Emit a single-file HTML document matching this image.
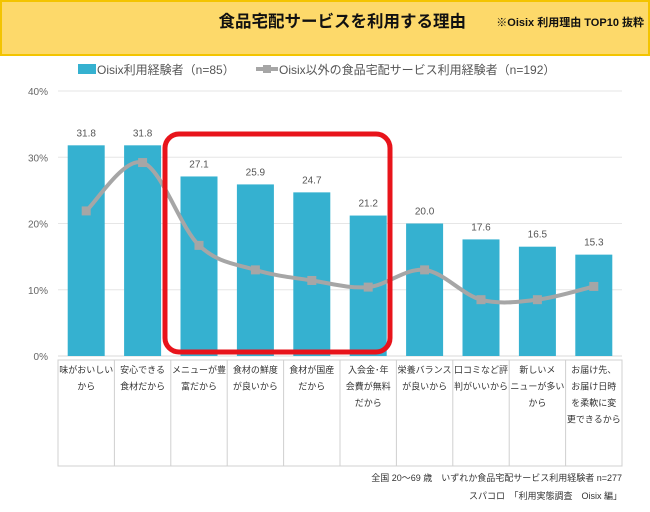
<!DOCTYPE html>
<html><head><meta charset="utf-8"><style>
body{margin:0;width:650px;height:507px;background:#fff;overflow:hidden;font-family:"Liberation Sans","Noto Sans CJK JP",sans-serif;}
</style></head><body>
<svg width="650" height="507" xmlns="http://www.w3.org/2000/svg" style="font-family:'Liberation Sans','Noto Sans CJK JP',sans-serif">
<rect x="1" y="1" width="648" height="54" fill="#fdd96a" stroke="#f3c400" stroke-width="2"/>
<text x="466" y="27" text-anchor="end" font-size="16.5" font-weight="bold" fill="#111">食品宅配サービスを利用する理由</text>
<text x="644" y="26" text-anchor="end" font-size="11" font-weight="bold" fill="#111">※Oisix 利用理由 TOP10 抜粋</text>
<g>
<rect x="78" y="64" width="18" height="10" fill="#35b1d0"/>
<text x="97" y="74" font-size="12" fill="#555">Oisix利用経験者（n=85）</text>
<line x1="256" y1="69" x2="278" y2="69" stroke="#a6a6a6" stroke-width="4"/>
<rect x="263" y="65" width="8" height="8" fill="#a6a6a6"/>
<text x="279" y="74" font-size="12" fill="#555">Oisix以外の食品宅配サービス利用経験者（n=192）</text>
</g>
<g id="grid"></g><g id="bars"></g><g id="line"></g><g id="table"></g>
<rect x="165" y="134" width="225" height="218" rx="14" fill="none" stroke="#e8141b" stroke-width="5"/>
<text x="622" y="481" text-anchor="end" font-size="9" fill="#333">全国 20〜69 歳　いずれか食品宅配サービス利用経験者 n=277</text>
<text x="622" y="499" text-anchor="end" font-size="9" fill="#333">スパコロ　「利用実態調査　Oisix 編」</text>
</svg>
<script>
const categories=[["味がおいしい","から"],["安心できる","食材だから"],["メニューが豊","富だから"],["食材の鮮度","が良いから"],["食材が国産","だから"],["入会金･年","会費が無料","だから"],["栄養バランス","が良いから"],["口コミなど評","判がいいから"],["新しいメ","ニューが多い","から"],["お届け先、","お届け日時","を柔軟に変","更できるから"]];
const oisixValues=[31.8,31.8,27.1,25.9,24.7,21.2,20.0,17.6,16.5,15.3];
const otherValues=[21.9,29.2,16.7,13.0,11.4,10.4,13.0,8.5,8.5,10.5];
const yTicks=[0,10,20,30,40];
const NS="http://www.w3.org/2000/svg";
const L=58,R=622,T=91,B=356,cw=(R-L)/categories.length;
const y=v=>B-(v/40)*(B-T);
const xc=i=>L+cw*(i+0.5);
function mk(tag,attrs,parent,txt){const e=document.createElementNS(NS,tag);for(const k in attrs)e.setAttribute(k,attrs[k]);if(txt!==undefined)e.textContent=txt;document.getElementById(parent).appendChild(e);return e;}
yTicks.forEach(t=>{
 const g=mk('line',{x1:L,x2:R,y1:y(t),y2:y(t),stroke:t===0?'#d9d9d9':'#e6e6e6','stroke-width':1},'grid');
 
 
 const l=mk('text',{x:L-10,y:y(t)+4,'text-anchor':'end','font-size':10,fill:'#666'},'grid',t+'%');
 
 
});
oisixValues.forEach((v,i)=>{
 const b=mk('rect',{x:xc(i)-18.5,y:y(v),width:37,height:B-y(v),fill:'#35b1d0'},'bars');
 
 
 const t=mk('text',{x:xc(i),y:y(v)-9,'text-anchor':'middle','font-size':10,fill:'#555'},'bars',v.toFixed(1));
 
 
});
const pts=otherValues.map((v,i)=>[xc(i),y(v)]);
let d='M'+pts[0][0]+','+pts[0][1];
for(let i=0;i<pts.length-1;i++){const p0=pts[Math.max(0,i-1)],p1=pts[i],p2=pts[i+1],p3=pts[Math.min(pts.length-1,i+2)];const s=1/6;
 d+=` C${p1[0]+(p2[0]-p0[0])*s},${p1[1]+(p2[1]-p0[1])*s} ${p2[0]-(p3[0]-p1[0])*s},${p2[1]-(p3[1]-p1[1])*s} ${p2[0]},${p2[1]}`;}
const ln=mk('path',{d:d,fill:'none',stroke:'#a6a6a6','stroke-width':4},'line');


pts.forEach(p=>{const m=mk('rect',{x:p[0]-4.5,y:p[1]-4.5,width:9,height:9,fill:'#a6a6a6'},'line');
 
 });
const tb=mk('rect',{x:L,y:360,width:R-L,height:106,fill:'none',stroke:'#d0d0d0','stroke-width':1},'table');


categories.forEach((c,i)=>{
 if(i>0){const v=mk('line',{x1:L+cw*i,x2:L+cw*i,y1:360,y2:466,stroke:'#d0d0d0'},'table');
  
  }
 c.forEach((s,j)=>{const t=mk('text',{x:xc(i),y:373+j*16.5,'text-anchor':'middle','font-size':9,fill:'#333'},'table',s);
  
  });
});
</script>
</body></html>
